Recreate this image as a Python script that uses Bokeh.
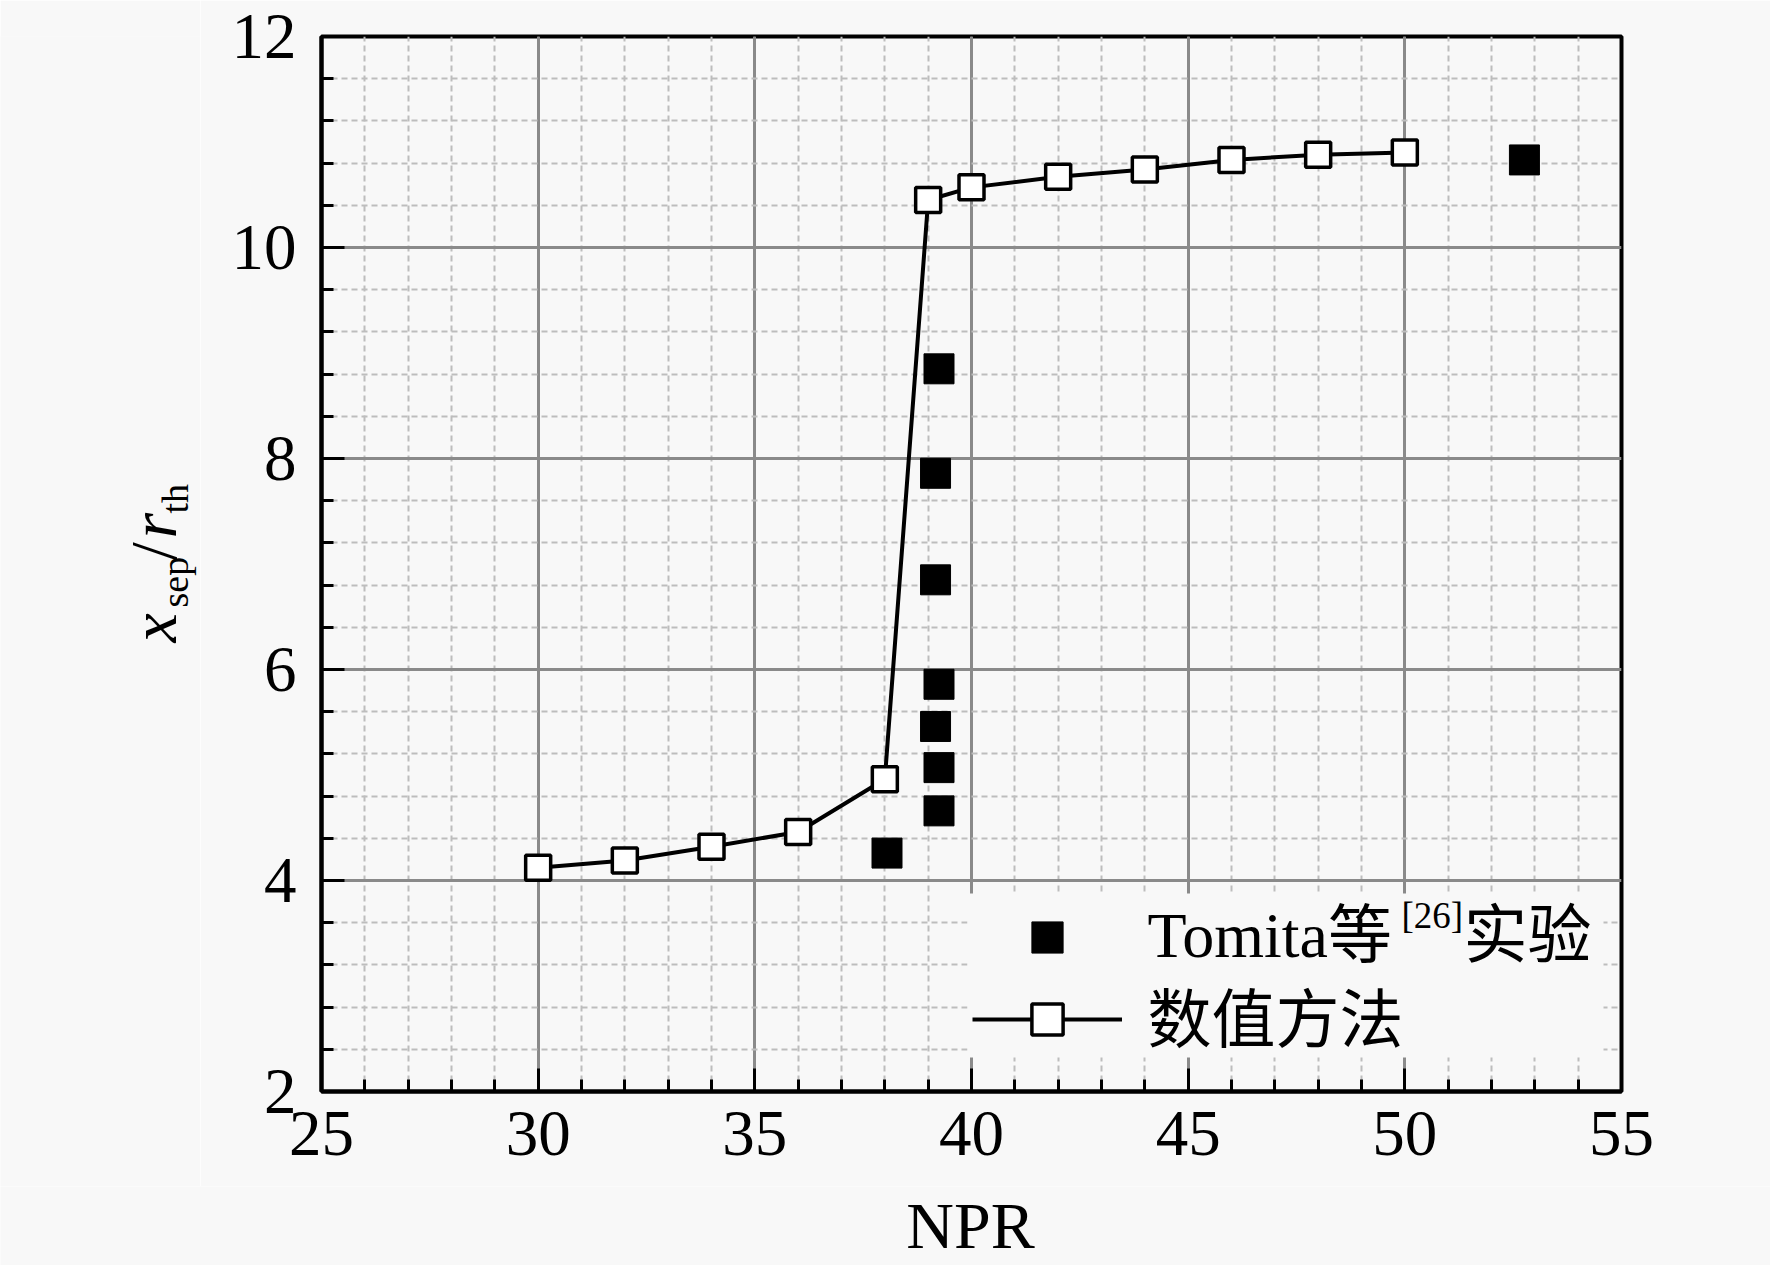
import math
from bokeh.plotting import figure
from bokeh.layouts import row, column
from bokeh.models import (Range1d, SingleIntervalTicker, Legend, LegendItem, Label,
                          BoxAnnotation)
from bokeh.embed import file_html
from bokeh.resources import INLINE

# ---- data ----
npr_num = [30, 32, 34, 36, 38, 39, 40, 42, 44, 46, 48, 50]
xsep_num = [4.12, 4.19, 4.32, 4.46, 4.96, 10.45, 10.57, 10.67, 10.74, 10.83, 10.88, 10.90]
npr_exp = [38.05, 39.25, 39.25, 39.17, 39.25, 39.17, 39.17, 39.25, 52.76]
xsep_exp = [4.26, 4.66, 5.07, 5.46, 5.86, 6.85, 7.86, 8.85, 10.83]
x_ticks_interval = 5
y_ticks_interval = 2
label_exp = "Tomita等"
label_exp_sup = "[26]"
label_exp_tail = "实验"
label_num = "数值方法"
x_label = "NPR"
y_label_parts = ["x", "sep", "/", "r", "th"]

BG = "#f8f8f8"
SERIF = "'Liberation Serif', 'Noto Sans CJK SC'"

W, H = 1770, 1265
LAB_W = 200
FW, FH = 1300, 1055
T, B = 36, 95
PH = T + FH + B           # height of the plot row
PW = W - LAB_W            # width of the main figure
L = 321 - LAB_W           # left border of main figure


def bare(width, height):
    f = figure(width=width, height=height, frame_width=width, frame_height=height,
               min_border=0, x_range=Range1d(0, width), y_range=Range1d(0, height),
               x_axis_type=None, y_axis_type=None,
               output_backend="svg", toolbar_location=None)
    f.background_fill_color = BG
    f.border_fill_color = BG
    f.outline_line_color = None
    f.grid.visible = False
    return f


# ---------------- main plot ----------------
p = figure(width=PW, height=PH, frame_width=FW, frame_height=FH,
           min_border_left=L, min_border_top=T,
           min_border_right=PW - L - FW, min_border_bottom=B,
           x_range=Range1d(25, 55), y_range=Range1d(2, 12),
           output_backend="svg", toolbar_location=None)
p.background_fill_color = BG
p.border_fill_color = BG
p.outline_line_color = "black"
p.outline_line_width = 4

p.xaxis.ticker = SingleIntervalTicker(interval=x_ticks_interval, num_minor_ticks=5)
p.yaxis.ticker = SingleIntervalTicker(interval=y_ticks_interval, num_minor_ticks=5)

for ax in (p.xaxis, p.yaxis):
    ax.axis_line_width = 4
    ax.axis_line_color = "black"
    ax.major_tick_in = 23
    ax.major_tick_out = 0
    ax.minor_tick_in = 12
    ax.minor_tick_out = 0
    ax.major_tick_line_width = 3
    ax.minor_tick_line_width = 3
    ax.major_tick_line_color = "black"
    ax.minor_tick_line_color = "black"
    ax.major_label_text_font = SERIF
    ax.major_label_text_font_size = "65px"
    ax.major_label_text_color = "black"

p.xaxis.major_label_standoff = 20
p.yaxis.major_label_standoff = 25

for g in (p.xgrid, p.ygrid):
    g.grid_line_color = "#8a8a8a"
    g.grid_line_width = 3
    g.minor_grid_line_color = "#bdbdbd"
    g.minor_grid_line_width = 2
    g.minor_grid_line_dash = "6 4"

# legend background (hides the grid behind the legend)
p.add_layout(BoxAnnotation(left=39.908, right=54.585, bottom=2.322, top=3.877,
                           fill_color=BG, fill_alpha=1.0, line_color=None,
                           level="underlay"))

r_exp = p.scatter(npr_exp, xsep_exp, marker="square", size=30,
                  fill_color="black", line_color="black", line_width=1)
r_line = p.line(npr_num, xsep_num, line_color="black", line_width=4)
r_num = p.scatter(npr_num, xsep_num, marker="square", size=25,
                  fill_color="white", line_color="black", line_width=3.5)

common = dict(margin=0, padding=4, spacing=0, glyph_width=150, glyph_height=78,
              label_height=78, label_width=0, label_standoff=0,
              background_fill_alpha=0.0, border_line_color=None,
              label_text_font_size="1px", label_text_color=BG, label_text_alpha=0.0)
leg1 = Legend(items=[LegendItem(label=" ", renderers=[r_exp])],
              location=(651, 115), **common)
leg2 = Legend(items=[LegendItem(label=" ", renderers=[r_line, r_num])],
              location=(651, 33), **common)
p.add_layout(leg1, "center")
p.add_layout(leg2, "center")


def txt(fig, text, x, y, size, style="normal", angle=0.0, units="screen", align="left"):
    fig.add_layout(Label(x=x, y=y, x_units=units, y_units=units, text=text,
                         angle=angle, text_font=SERIF, text_font_size=size,
                         text_font_style=style, text_baseline="alphabetic",
                         text_align=align, text_color="black"))


# legend texts (frame-relative screen px, measured from frame bottom)
txt(p, label_exp, 826, 156, "64px")
txt(p, label_exp_sup, 1080, 176, "37px")
txt(p, label_exp_tail, 1142, 156, "64px")
txt(p, label_num, 826, 71, "64px")

# ---------------- y-axis label strip ----------------
lab = bare(LAB_W, PH)
ypos = [(153, PH - 642 + 36, "66px", "italic"),
        (174, PH - 607 + 36, "38px", "normal"),
        (153, PH - 560 + 36, "66px", "normal"),
        (153, PH - 538 + 36, "66px", "italic"),
        (174, PH - 513 + 36, "38px", "normal")]
for part, (sx, sy, fs, st) in zip(y_label_parts, ypos):
    txt(lab, part, sx, sy, fs, st, angle=math.pi / 2, units="data")

# ---------------- x-axis label strip ----------------
BH = H - PH
bot = bare(W, BH)
txt(bot, x_label, 970, BH - (1247 - PH) + 22, "66px", units="data", align="center")

layout = column(row(lab, p, spacing=0), bot, spacing=0)
open("out.html", "w").write(file_html(layout, INLINE))
